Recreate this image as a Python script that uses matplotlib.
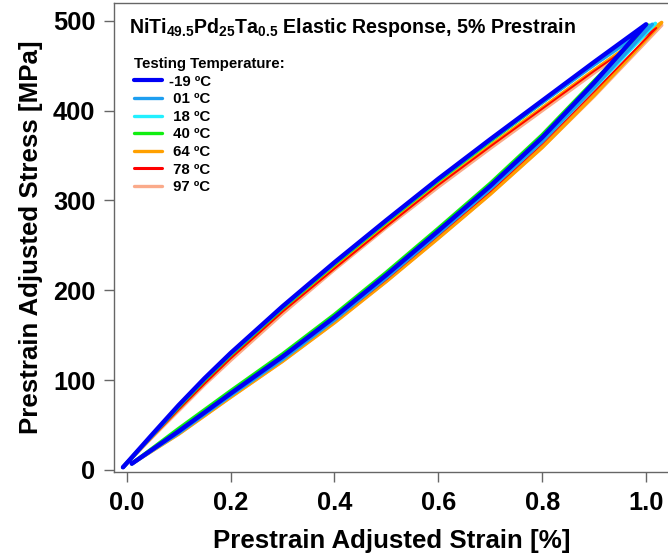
import matplotlib
matplotlib.use("Agg")
import matplotlib.pyplot as plt

plt.rcParams['font.family'] = ['Liberation Sans', 'DejaVu Sans']
plt.rcParams['mathtext.fontset'] = 'custom'
plt.rcParams['mathtext.rm'] = 'Liberation Sans:bold'
plt.rcParams['mathtext.bf'] = 'Liberation Sans:bold'
plt.rcParams['mathtext.default'] = 'bf'

# Data
temps = ["-19 ºC", " 01 ºC", " 18 ºC", " 40 ºC", " 64 ºC", " 78 ºC", " 97 ºC"]
colors = ["#0000F5", "#1E9EF0", "#22F0FF", "#11EE11", "#FFA000", "#FF0000", "#FAAA8A"]

upper_strain = [-0.007, 0.05, 0.1, 0.15, 0.2, 0.3, 0.4, 0.5, 0.6, 0.7, 0.8, 0.9]
lower_strain = [0.01, 0.1, 0.2, 0.3, 0.4, 0.5, 0.6, 0.7, 0.8, 0.9]

upper_m19 = [3, 40, 72, 102, 130, 182, 231, 278, 324, 368, 411, 454]
upper_01 = [3, 39, 71, 101, 129, 181, 230, 277, 323, 367, 409, 451]
upper_18 = [3, 39, 71, 101, 129, 181, 230, 277, 322, 366, 409, 451]
upper_40 = [3, 39, 70, 100, 128, 180, 229, 276, 322, 366, 409, 452]
upper_64 = [3, 38, 68, 97, 125, 177, 225, 272, 318, 361, 403, 445]
upper_78 = [3, 37, 67, 96, 124, 176, 224, 271, 317, 360, 402, 444]
upper_97 = [3, 37, 66, 95, 122, 174, 223, 270, 315, 358, 400, 442]

lower_m19 = [7, 43, 85, 126, 170, 217, 266, 316, 370, 431]
lower_01 = [7, 41, 83, 123, 167, 214, 263, 313, 366, 426]
lower_18 = [7, 42, 83, 124, 168, 215, 264, 313, 366, 425]
lower_40 = [7, 46, 88, 129, 173, 220, 269, 319, 373, 433]
lower_64 = [7, 40, 81, 121, 164, 210, 258, 307, 359, 417]
lower_78 = [7, 41, 82, 123, 166, 212, 261, 310, 363, 421]
lower_97 = [7, 40, 81, 121, 164, 210, 258, 307, 359, 416]

peak_strain = [1.0, 1.012, 1.018, 1.005, 1.03, 1.02, 1.03]
peak_stress = [496, 496, 497, 495, 498, 492, 495]

xticks = [0.0, 0.2, 0.4, 0.6, 0.8, 1.0]
xtick_labels = ["0.0", "0.2", "0.4", "0.6", "0.8", "1.0"]
yticks = [0, 100, 200, 300, 400, 500]

uppers = [upper_m19, upper_01, upper_18, upper_40, upper_64, upper_78, upper_97]
lowers = [lower_m19, lower_01, lower_18, lower_40, lower_64, lower_78, lower_97]
widths = [3.2, 2.6, 2.6, 2.6, 2.6, 1.3, 2.6]

fig = plt.figure(figsize=(6.68, 5.58), dpi=100)
ax = fig.add_axes([114/668, 85.7/558, 556/668, 469.3/558])

order = [6, 4, 5, 2, 3, 1, 0]
handles = [None]*7
for i in order:
    xs = list(upper_strain) + [peak_strain[i]] + list(lower_strain[::-1])
    ys = list(uppers[i]) + [peak_stress[i]] + list(lowers[i][::-1])
    ln, = ax.plot(xs, ys, color=colors[i], lw=widths[i], solid_joinstyle='round',
                  solid_capstyle='round', label=temps[i])
    handles[i] = ln

ax.set_xlim(-0.0243, 1.0461)
ax.set_ylim(-2.6, 519.7)
ax.set_xticks(xticks)
ax.set_xticklabels(xtick_labels)
ax.set_yticks(yticks)

for s in ax.spines.values():
    s.set_color("#666666")
    s.set_linewidth(1.0)
ax.tick_params(direction='out', length=7.5, width=1, color="#666666",
               labelsize=18.3, pad=6)
for lab in ax.get_xticklabels() + ax.get_yticklabels():
    lab.set_fontweight('bold')

ax.set_xlabel("Prestrain Adjusted Strain [%]", fontsize=18.6, fontweight='bold', labelpad=10)
ax.set_ylabel("Prestrain Adjusted Stress [MPa]", fontsize=18.6, fontweight='bold', labelpad=7)

ax.text(0.0262, 0.9354, r"NiTi$_{49.5}$Pd$_{25}$Ta$_{0.5}$ Elastic Response, 5% Prestrain",
        transform=ax.transAxes, fontsize=14.1, fontweight='bold', va='baseline', ha='left')

leg = ax.legend(handles=handles, loc='upper left', bbox_to_anchor=(0.036, 0.885),
                frameon=False, title="Testing Temperature:",
                title_fontproperties={'weight': 'bold', 'size': 10.8},
                prop={'weight': 'bold', 'size': 10.8}, alignment='left',
                handlelength=1.87, handletextpad=0.45, labelspacing=0.24, borderpad=0,
                borderaxespad=0)
for lh, w in zip(leg.get_lines(), [3.0, 2.4, 2.4, 2.4, 2.4, 2.2, 2.4]):
    lh.set_linewidth(w)

fig.savefig("out.png", dpi=100)
